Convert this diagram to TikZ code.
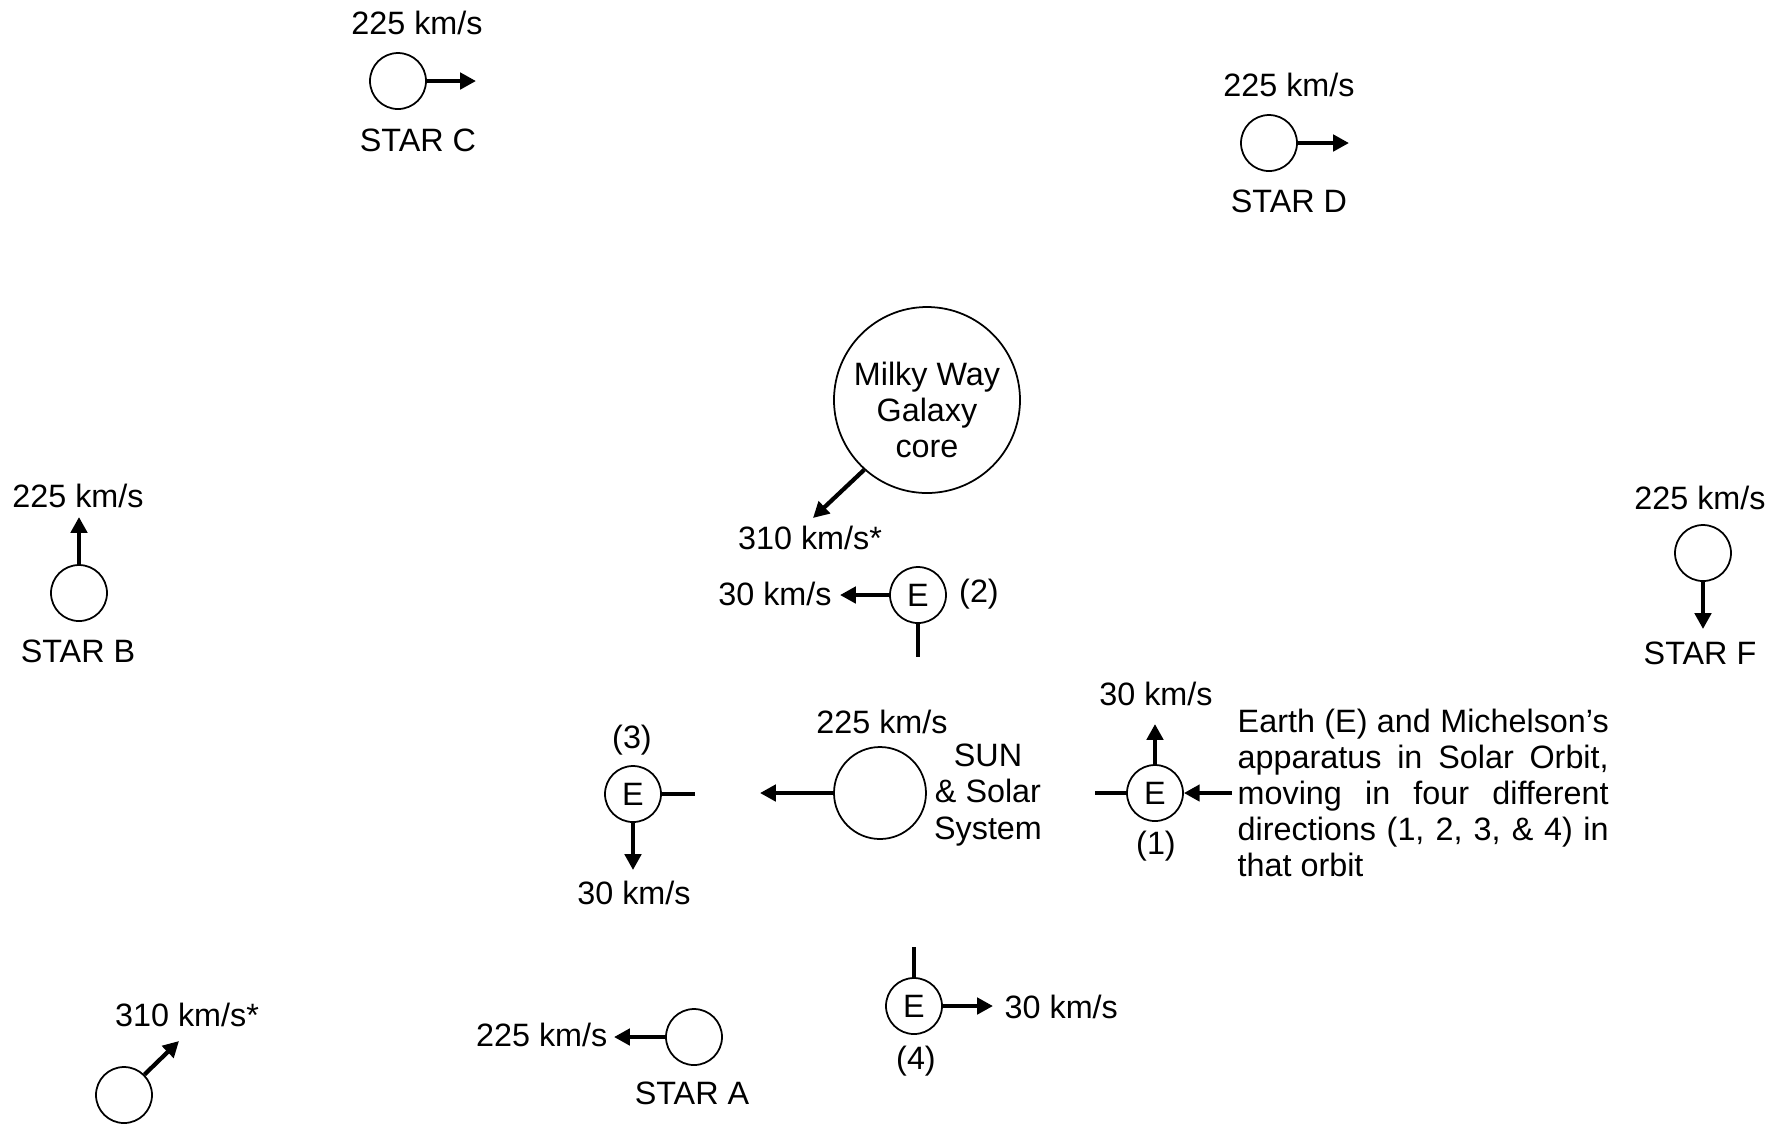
\documentclass[tikz,border=0pt]{standalone}
\usepackage{fontspec}
\setmainfont{Liberation Sans}
\usetikzlibrary{arrows.meta}
\tikzset{
  every node/.style={font=\fontsize{9.2}{10.3}\selectfont},
  star/.style={circle,draw,line width=0.5pt,inner sep=0pt,minimum size=0.56cm},
  earth/.style={star},
  vel/.style={-{Triangle[length=4.5pt,width=4.6pt]},line width=1.2pt},
  stub/.style={line width=1.2pt}
}

\begin{document}
\begin{tikzpicture}[y=-1cm]
  \useasboundingbox (0,0) rectangle (17.74,11.33);
  % Star C
  \node[star] (starC) at (3.98,0.81) {};
  \coordinate (starCv) at (4.76,0.81);
  \draw[vel] (starC) -- (starCv);
  \node (starCs) at (4.17,0.23) {225 km/s};
  \node (starCn) at (4.18,1.40) {STAR C};
  % Star D
  \node[star] (starD) at (12.69,1.43) {};
  \coordinate (starDv) at (13.49,1.43);
  \draw[vel] (starD) -- (starDv);
  \node (starDs) at (12.89,0.85) {225 km/s};
  \node (starDn) at (12.89,2.01) {STAR D};
  % Star B
  \node[star] (starB) at (0.79,5.93) {};
  \coordinate (starBv) at (0.79,5.17);
  \draw[vel] (starB) -- (starBv);
  \node (starBs) at (0.78,4.96) {225 km/s};
  \node (starBn) at (0.78,6.51) {STAR B};
  % Star F
  \node[star] (starF) at (17.03,5.53) {};
  \coordinate (starFv) at (17.03,6.29);
  \draw[vel] (starF) -- (starFv);
  \node (starFs) at (17.00,4.98) {225 km/s};
  \node (starFn) at (17.00,6.53) {STAR F};
  % unnamed star, lower left
  \node[star] (starG) at (1.24,10.95) {};
  \coordinate (starGv) at (1.79,10.41);
  \draw[vel] (starG.45) -- (starGv);
  \node (starGs) at (1.87,10.15) {310 km/s*};
  % Star A
  \node[star] (starA) at (6.94,10.37) {};
  \coordinate (starAv) at (6.14,10.37);
  \draw[vel] (starA) -- (starAv);
  \node[anchor=east,inner sep=0pt] (starAs) at (6.08,10.35) {225 km/s};
  \node (starAn) at (6.92,10.93) {STAR A};
  % Galaxy core
  \node[circle,draw,line width=0.5pt,inner sep=0pt,minimum size=1.86cm] (core) at (9.27,4.00) {};
  \node[align=center] (coret) at (9.27,4.10) {Milky Way\\Galaxy\\core};
  \coordinate (corev) at (8.13,5.18);
  \draw[vel] (core.228) -- (corev);
  \node (cores) at (8.10,5.38) {310 km/s*};
  % Sun
  \node[circle,draw,line width=0.5pt,inner sep=0pt,minimum size=0.92cm] (sun) at (8.80,7.93) {};
  \coordinate (sunv) at (7.60,7.93);
  \draw[vel] (sun) -- (sunv);
  \node (suns) at (8.82,7.22) {225 km/s};
  \node[align=center] (sunn) at (9.88,7.95) {SUN\\\& Solar\\System};
  % Earth (1)
  \node[earth] (e1) at (11.55,7.93) {E};
  \coordinate (e1t) at (10.95,7.93);
  \coordinate (e1v) at (11.55,7.24);
  \draw[stub] (e1) -- (e1t);
  \draw[vel] (e1) -- (e1v);
  \node (e1s) at (11.56,6.94) {30 km/s};
  \node (e1n) at (11.56,8.46) {(1)};
  \node[anchor=west,inner sep=0pt,text width=3.71cm,align=justify] (note) at (12.37,7.93)
    {Earth (E) and \mbox{Michelson’s} \mbox{apparatus} in Solar Orbit, \mbox{moving} in four \mbox{different}
     \mbox{directions} (1, 2, 3, \& 4) in that orbit};
  \draw[vel] (note.west) ++(-0.05,0) coordinate (notep) -- (e1);
  % Earth (2)
  \node[earth] (e2) at (9.18,5.95) {E};
  \coordinate (e2t) at (9.18,6.57);
  \coordinate (e2v) at (8.40,5.95);
  \draw[stub] (e2) -- (e2t);
  \draw[vel] (e2) -- (e2v);
  \node (e2s) at (7.75,5.94) {30 km/s};
  \node (e2n) at (9.79,5.94) {(2)};
  % Earth (3)
  \node[earth] (e3) at (6.33,7.94) {E};
  \coordinate (e3t) at (6.95,7.94);
  \coordinate (e3v) at (6.33,8.70);
  \draw[stub] (e3) -- (e3t);
  \draw[vel] (e3) -- (e3v);
  \node (e3n) at (6.32,7.40) {(3)};
  \node (e3s) at (6.34,8.93) {30 km/s};
  % Earth (4)
  \node[earth] (e4) at (9.14,10.06) {E};
  \coordinate (e4t) at (9.14,9.47);
  \coordinate (e4v) at (9.93,10.06);
  \draw[stub] (e4) -- (e4t);
  \draw[vel] (e4) -- (e4v);
  \node[anchor=west,inner sep=0pt] (e4s) at (10.04,10.07) {30 km/s};
  \node (e4n) at (9.16,10.61) {(4)};
\end{tikzpicture}
\end{document}
